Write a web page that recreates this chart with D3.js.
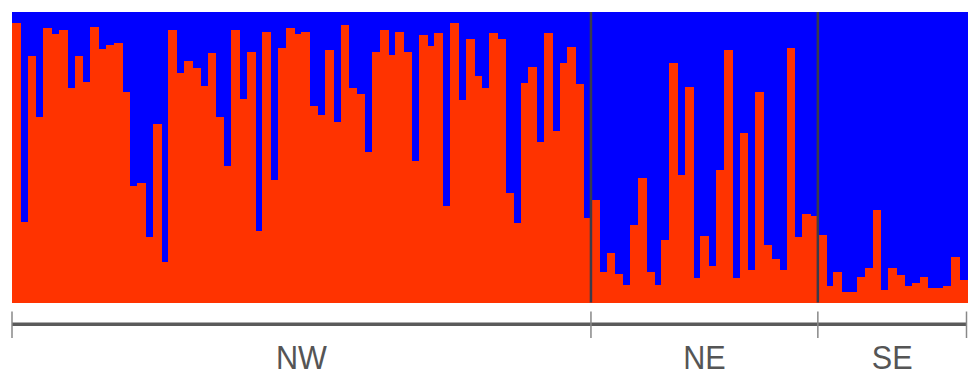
<!DOCTYPE html>
<html>
<head>
<meta charset="utf-8">
<script src="https://cdn.jsdelivr.net/npm/d3@7"></script>
<style>
  html, body { margin: 0; padding: 0; background: #fff; }
  svg { display: block; }
</style>
</head>
<body>
<script>
const w = 968,
  h = 377;

// share of cluster 1 (red) per individual, cluster 2 (blue) is the rest
const regions = ['NW', 'NE', 'SE'];

const nwValues = [
  0.963, 0.277, 0.848, 0.639, 0.945, 0.924, 0.938, 0.740, 0.848, 0.760,
  0.949, 0.871, 0.888, 0.894, 0.723, 0.401, 0.411, 0.225, 0.613, 0.139,
  0.938, 0.789, 0.831, 0.808, 0.745, 0.858, 0.639, 0.470, 0.938, 0.702,
  0.863, 0.245, 0.931, 0.420, 0.875, 0.945, 0.923, 0.931, 0.676, 0.645,
  0.869, 0.621, 0.956, 0.739, 0.717, 0.518, 0.863, 0.938, 0.852, 0.931,
  0.863, 0.487, 0.920, 0.884, 0.926, 0.331, 0.961, 0.697, 0.906, 0.779,
  0.739, 0.926, 0.906, 0.377, 0.275, 0.756, 0.811, 0.552, 0.926, 0.590,
  0.825, 0.880, 0.751, 0.292
];

const neValues = [
  0.354, 0.105, 0.171, 0.099, 0.061, 0.268, 0.430, 0.105, 0.061, 0.214,
  0.825, 0.438, 0.742, 0.084, 0.230, 0.124, 0.455, 0.869, 0.084, 0.582,
  0.113, 0.724, 0.199, 0.151, 0.113, 0.875, 0.225, 0.303, 0.298
];

const seValues = [
  0.234, 0.056, 0.105, 0.036, 0.036, 0.087, 0.118, 0.320, 0.044, 0.118,
  0.093, 0.056, 0.067, 0.087, 0.051, 0.051, 0.056, 0.156, 0.076
];

const groups = [nwValues, neValues, seValues];

const data = [];
groups.forEach((vals, g) => {
  vals.forEach(v => data.push({ region: regions[g], red: v }));
});

const plotLeft = 12,
  plotRight = 966.5,
  plotTop = 12,
  plotBottom = 302.5;

const xScale = d3.scaleBand()
  .domain(d3.range(data.length))
  .range([plotLeft, plotRight])
  .paddingInner(0)
  .paddingOuter(0);

const yScale = d3.scaleLinear()
  .domain([0, 1])
  .range([plotBottom, plotTop]);

const svg = d3.select('body')
  .append('svg')
  .attr('width', w)
  .attr('height', h);

const stacked = d3.stack().keys(['red', 'blue'])(data.map(d => ({ red: d.red, blue: 1 - d.red })));
const colors = { red: '#ff3300', blue: '#0000ff' };

// blue layer first, red on top so neighbouring bars never leave seams
svg.selectAll('g.layer')
  .data(stacked.slice().reverse())
  .enter()
  .append('g')
  .attr('class', 'layer')
  .attr('fill', d => colors[d.key])
  .attr('shape-rendering', 'crispEdges')
  .selectAll('rect')
  .data(d => d)
  .enter()
  .append('rect')
  .attr('x', (_, i) => xScale(i))
  .attr('y', d => yScale(d[1]))
  .attr('width', xScale.bandwidth() + 1)
  .attr('height', d => yScale(d[0]) - yScale(d[1]));

// group boundaries
const bounds = [0];
groups.forEach((vals, g) => bounds.push(bounds[g] + vals.length));
const edgeX = bounds.map(b => b < data.length ? xScale(b) : plotRight);

svg.selectAll('line.sep')
  .data(edgeX.slice(1, -1))
  .enter()
  .append('line')
  .attr('class', 'sep')
  .attr('x1', d => d)
  .attr('x2', d => d)
  .attr('y1', plotTop)
  .attr('y2', plotBottom)
  .attr('stroke', '#3a3a4a')
  .attr('stroke-width', 2.5);

// bottom bracket axis
const axisY = 324.3;

svg.append('line')
  .attr('x1', plotLeft)
  .attr('x2', plotRight)
  .attr('y1', axisY)
  .attr('y2', axisY)
  .attr('stroke', '#5a5a5a')
  .attr('stroke-width', 3.5);

svg.selectAll('line.tick')
  .data(edgeX)
  .enter()
  .append('line')
  .attr('class', 'tick')
  .attr('x1', d => d)
  .attr('x2', d => d)
  .attr('y1', 311.5)
  .attr('y2', 338)
  .attr('stroke', '#888')
  .attr('stroke-width', 1.5);

svg.selectAll('text.region')
  .data(regions)
  .enter()
  .append('text')
  .attr('class', 'region')
  .attr('transform', (_, i) => `translate(${(edgeX[i] + edgeX[i + 1]) / 2}, 369) scale(0.9, 1)`)
  .attr('text-anchor', 'middle')
  .attr('font-family', '"Liberation Sans", Arial, sans-serif')
  .attr('font-size', '34px')
  .attr('fill', '#555')
  .text(d => d);
</script>
</body>
</html>
